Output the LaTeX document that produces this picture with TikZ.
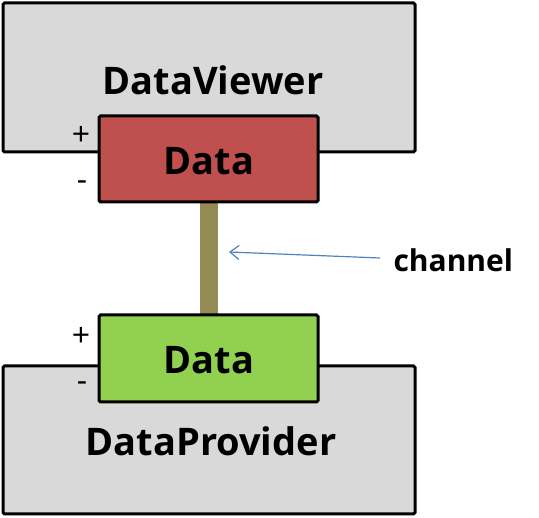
\documentclass[tikz,border=0pt]{standalone}
\usepackage{fontspec}
\setmainfont{Open Sans}
\usetikzlibrary{arrows.meta}
\definecolor{boxgrey}{HTML}{D9D9D9}
\definecolor{datared}{HTML}{C0504D}
\definecolor{datagreen}{HTML}{92D050}
\definecolor{chan}{HTML}{948A54}
\definecolor{arrowblue}{HTML}{4F81BD}
\begin{document}
\begin{tikzpicture}[x=1pt,y=-1pt,
  outer/.style={draw=black,line width=3pt,fill=boxgrey,rounded corners=1.5pt},
  inner/.style={draw=black,line width=3pt,rounded corners=1.5pt},
  big/.style={font=\fontsize{38}{40}\selectfont\bfseries},
  sign/.style={font=\fontsize{32}{34}\selectfont}]
\useasboundingbox (0,0) rectangle (539,518);
% outer boxes
\path[outer] (3,3) rectangle (415,152);
\path[outer] (3,366) rectangle (415,514);
% channel
\path[fill=chan] (200,203) rectangle (218,315);
% data boxes
\path[inner,fill=datared] (99,116) rectangle (318,202);
\path[inner,fill=datagreen] (99,315) rectangle (318,402);
% labels
\node[big] (dv) at (213,80) {DataViewer};
\node[big] (dp) at (211,441) {DataProvider};
\node[big] (d1) at (209,161) {Data};
\node[big] (d2) at (209,360) {Data};
\node[sign] (p1) at (81,136) {+};
\node[sign] (m1) at (82,186) {-};
\node[sign] (p2) at (81,337) {+};
\node[sign] (m2) at (82,387) {-};
\node[font=\fontsize{30}{32}\selectfont\bfseries,anchor=west] (ch) at (390,260) {channel};
\coordinate (tip) at (229,252);
\draw[arrowblue,line width=1.2pt,-{Straight Barb[length=9pt,width=14pt]}] (ch.west)++(-10,-2) -- (tip);
\end{tikzpicture}
\end{document}
